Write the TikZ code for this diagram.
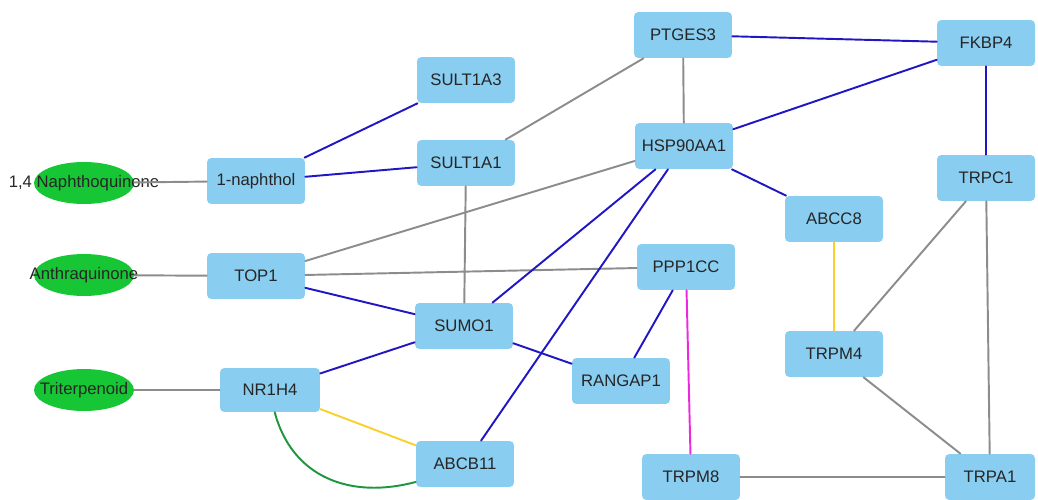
\documentclass[tikz,border=0pt]{standalone}
\usepackage{fontspec}
\setmainfont{Liberation Sans}
\usetikzlibrary{shapes.geometric}

\definecolor{genebox}{RGB}{137,205,240}
\definecolor{compound}{RGB}{22,198,52}
\definecolor{linkgray}{RGB}{140,140,140}
\definecolor{linkblue}{RGB}{32,22,195}
\definecolor{linkyellow}{RGB}{250,208,45}
\definecolor{linkpink}{RGB}{238,40,222}
\definecolor{linkgreen}{RGB}{30,150,62}

\begin{document}
\begin{tikzpicture}[x=0.02cm,y=-0.02cm,
    gene/.style={rectangle,rounded corners=2.5pt,fill=genebox,minimum width=1.96cm,minimum height=0.92cm,
      inner sep=0pt,text=black!85,font=\fontsize{9.5}{11}\selectfont},
    chem/.style={ellipse,fill=compound,minimum width=2cm,minimum height=0.84cm,inner sep=0pt},
    chemtext/.style={text=black!85,font=\fontsize{9.5}{11}\selectfont},
    link/.style={line width=1.1pt,line cap=round},
    gray link/.style={link,linkgray},
    blue link/.style={link,linkblue},
    yellow link/.style={link,linkyellow},
    pink link/.style={link,linkpink},
    green link/.style={link,linkgreen}]
    \useasboundingbox (0,0) rectangle (1038,500);

    % compounds
    \node[chem,label={[chemtext]center:{1,4 Naphthoquinone}}] (naphq) at (84,183) {};
    \node[chem,label={[chemtext]center:Anthraquinone}] (anthq) at (84,275) {};
    \node[chem,label={[chemtext]center:Triterpenoid}] (triterp) at (84,390) {};

    % genes
    \node[gene] (naphthol) at (256,181) {1-naphthol};
    \node[gene] (sultathree) at (466,80) {SULT1A3};
    \node[gene] (sultaone) at (466,163) {SULT1A1};
    \node[gene] (ptges) at (683,35) {PTGES3};
    \node[gene] (fkbp) at (986,43) {FKBP4};
    \node[gene] (hsp) at (684,146) {HSP90AA1};
    \node[gene] (trpc) at (986,178) {TRPC1};
    \node[gene] (abcc) at (834,219) {ABCC8};
    \node[gene] (topo) at (256,276) {TOP1};
    \node[gene] (ppp) at (686,267) {PPP1CC};
    \node[gene] (sumo) at (464,326) {SUMO1};
    \node[gene] (trpmfour) at (834,354) {TRPM4};
    \node[gene,minimum width=2cm,minimum height=0.88cm] (nr) at (270,390) {NR1H4};
    \node[gene] (rangap) at (621,381) {RANGAP1};
    \node[gene] (abcb) at (465,464) {ABCB11};
    \node[gene] (trpmeight) at (691,477) {TRPM8};
    \node[gene,minimum width=1.8cm] (trpa) at (990,477) {TRPA1};

    % compound links
    \draw[gray link] (naphq) -- (naphthol);
    \draw[gray link] (anthq) -- (topo);
    \draw[gray link] (triterp) -- (nr);

    % gray links
    \draw[gray link] (sultaone) -- (ptges);
    \draw[gray link] (sultaone) -- (sumo);
    \draw[gray link] (ptges) -- (hsp);
    \draw[gray link] (hsp) -- (topo);
    \draw[gray link] (topo) -- (ppp);
    \draw[gray link] (trpc) -- (trpmfour);
    \draw[gray link] (trpc) -- (trpa);
    \draw[gray link] (trpmfour) -- (trpa);
    \draw[gray link] (trpmeight) -- (trpa);

    % blue links
    \draw[blue link] (naphthol) -- (sultathree);
    \draw[blue link] (naphthol) -- (sultaone);
    \draw[blue link] (ptges) -- (fkbp);
    \draw[blue link] (hsp) -- (fkbp);
    \draw[blue link] (fkbp) -- (trpc);
    \draw[blue link] (hsp) -- (abcc);
    \draw[blue link] (hsp) -- (sumo);
    \draw[blue link] (hsp) -- (abcb);
    \draw[blue link] (topo) -- (sumo);
    \draw[blue link] (sumo) -- (nr);
    \draw[blue link] (sumo) -- (rangap);
    \draw[blue link] (ppp) -- (rangap);

    % other links
    \draw[yellow link] (abcc) -- (trpmfour);
    \draw[yellow link] (nr) -- (abcb);
    \draw[pink link] (ppp) -- (trpmeight);
    \draw[green link] (nr.-78) to[out=-75,in=195,looseness=1.1] (abcb.-160); % second NR1H4-ABCB11 link
\end{tikzpicture}
\end{document}
